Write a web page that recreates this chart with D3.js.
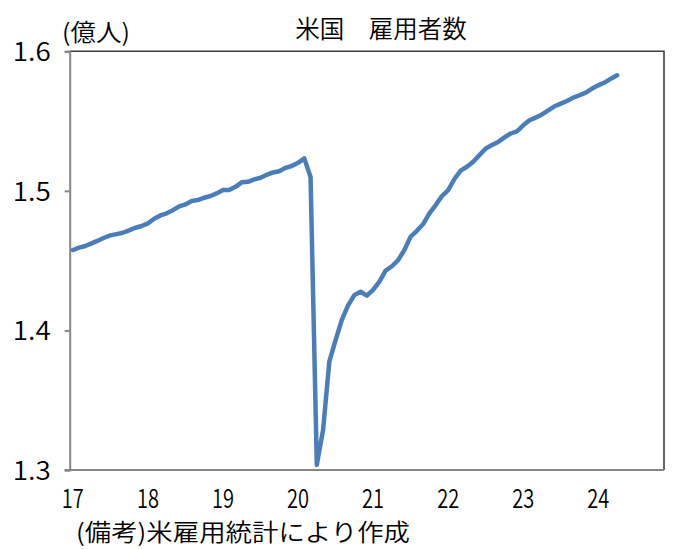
<!DOCTYPE html>
<html>
<head>
<meta charset="utf-8">
<script src="https://cdn.jsdelivr.net/npm/d3@7"></script>
<style>
  html, body { margin: 0; padding: 0; background: #fff; }
  svg { display: block; }
  text { font-family: "Noto Sans CJK JP", sans-serif; font-weight: 350; fill: #000; }
</style>
</head>
<body>
<svg id="chart" width="678" height="549"></svg>
<script>
// monthly values, 億人, Jan 2017 .. Apr 2024
var v2017 = [1.4576, 1.4593, 1.4605, 1.4624, 1.4643, 1.4664, 1.4681, 1.4690, 1.4700, 1.4717, 1.4736, 1.4748];
var v2018 = [1.4767, 1.4800, 1.4824, 1.4839, 1.4862, 1.4889, 1.4903, 1.4927, 1.4934, 1.4951, 1.4963, 1.4982];
var v2019 = [1.5006, 1.5006, 1.5029, 1.5061, 1.5065, 1.5082, 1.5094, 1.5115, 1.5132, 1.5141, 1.5165, 1.5178];
var v2020 = [1.5201, 1.5233, 1.5100, 1.3036, 1.3287, 1.3776, 1.3930, 1.4075, 1.4180, 1.4253, 1.4277, 1.4249];
var v2021 = [1.4290, 1.4349, 1.4428, 1.4460, 1.4504, 1.4576, 1.4672, 1.4714, 1.4762, 1.4839, 1.4898, 1.4963];
var v2022 = [1.5005, 1.5085, 1.5145, 1.5173, 1.5209, 1.5256, 1.5304, 1.5328, 1.5351, 1.5383, 1.5411, 1.5427];
var v2023 = [1.5470, 1.5506, 1.5525, 1.5548, 1.5577, 1.5606, 1.5625, 1.5644, 1.5668, 1.5685, 1.5704, 1.5733];
var v2024 = [1.5756, 1.5776, 1.5804, 1.5828];

var yearLabels = ["17", "18", "19", "20", "21", "22", "23", "24"];
var yTicks = [1.3, 1.4, 1.5, 1.6];

var title = "米国　雇用者数";
var unitLabel = "(億人)";
var note = "(備考)米雇用統計により作成";

(function(){
  var values = [].concat(v2017, v2018, v2019, v2020, v2021, v2022, v2023, v2024);

  // category axis: one slot per month, Jan 2017 .. Nov 2024
  var months = d3.timeMonth.range(new Date(2017, 0, 1), new Date(2024, 11, 1));
  var data = values.map(function(v, i){ return { month: months[i], value: v }; });

  var svg = d3.select("#chart");

  var mLeft = 69.7, mRight = 664, mTop = 51.3, mBottom = 470;

  var x = d3.scaleBand().domain(months).range([mLeft, mRight]).padding(0);
  var y = d3.scaleLinear().domain([1.3, 1.6]).range([mBottom, mTop]);
  var cx = function(m){ return x(m) + x.bandwidth() / 2; };

  // plot frame (top / right dark)
  svg.append("path")
    .attr("d", "M" + mLeft + "," + mTop + "H" + mRight + "V" + mBottom)
    .attr("fill", "none")
    .attr("stroke", "#3f3f3f")
    .attr("stroke-width", 1.6);

  // y axis
  var yAxis = svg.append("g")
    .attr("transform", "translate(" + mLeft + ",0)")
    .call(d3.axisLeft(y).tickValues(yTicks).tickSize(5).tickPadding(14)
      .tickFormat(d3.format(".1f")));
  yAxis.select(".domain").attr("stroke", "#868686").attr("stroke-width", 2);
  yAxis.selectAll(".tick line").attr("stroke", "#868686").attr("stroke-width", 2);
  yAxis.selectAll(".tick text")
    .attr("font-family", "Noto Sans CJK JP")
    .attr("font-size", 26)
    .attr("dy", "0.36em")
    .attr("textLength", 38)
    .attr("lengthAdjust", "spacingAndGlyphs");

  // x axis (labels at the first month of each year)
  var yearStarts = months.filter(function(m){ return m.getMonth() === 0; });
  var xAxis = svg.append("g")
    .attr("transform", "translate(0," + mBottom + ")")
    .call(d3.axisBottom(x).tickValues(yearStarts).tickSize(0).tickPadding(22)
      .tickFormat(function(d, i){ return yearLabels[i]; }));
  xAxis.select(".domain").attr("stroke", "#868686").attr("stroke-width", 2)
    .attr("d", "M" + (mLeft - 5) + ",0H" + mRight);
  xAxis.selectAll(".tick text")
    .attr("font-family", "Noto Sans CJK JP")
    .attr("font-size", 26)
    .attr("dy", "0.6em")
    .attr("textLength", 22)
    .attr("lengthAdjust", "spacingAndGlyphs");

  // the series
  var line = d3.line()
    .x(function(d){ return cx(d.month); })
    .y(function(d){ return y(d.value); });

  svg.append("path")
    .datum(data)
    .attr("d", line)
    .attr("fill", "none")
    .attr("stroke", "#4a7ebb")
    .attr("stroke-width", 4.5)
    .attr("stroke-linejoin", "round")
    .attr("stroke-linecap", "round");

  // texts
  svg.append("text")
    .attr("x", 381).attr("y", 38)
    .attr("text-anchor", "middle")
    .attr("font-size", 24.5)
    .text(title);

  svg.append("text")
    .attr("x", 62).attr("y", 41)
    .attr("font-size", 24)
    .attr("textLength", 68)
    .attr("lengthAdjust", "spacingAndGlyphs")
    .text(unitLabel);

  svg.append("text")
    .attr("x", 76).attr("y", 541)
    .attr("font-size", 24)
    .attr("textLength", 334)
    .attr("lengthAdjust", "spacingAndGlyphs")
    .text(note);
})();
</script>
</body>
</html>
